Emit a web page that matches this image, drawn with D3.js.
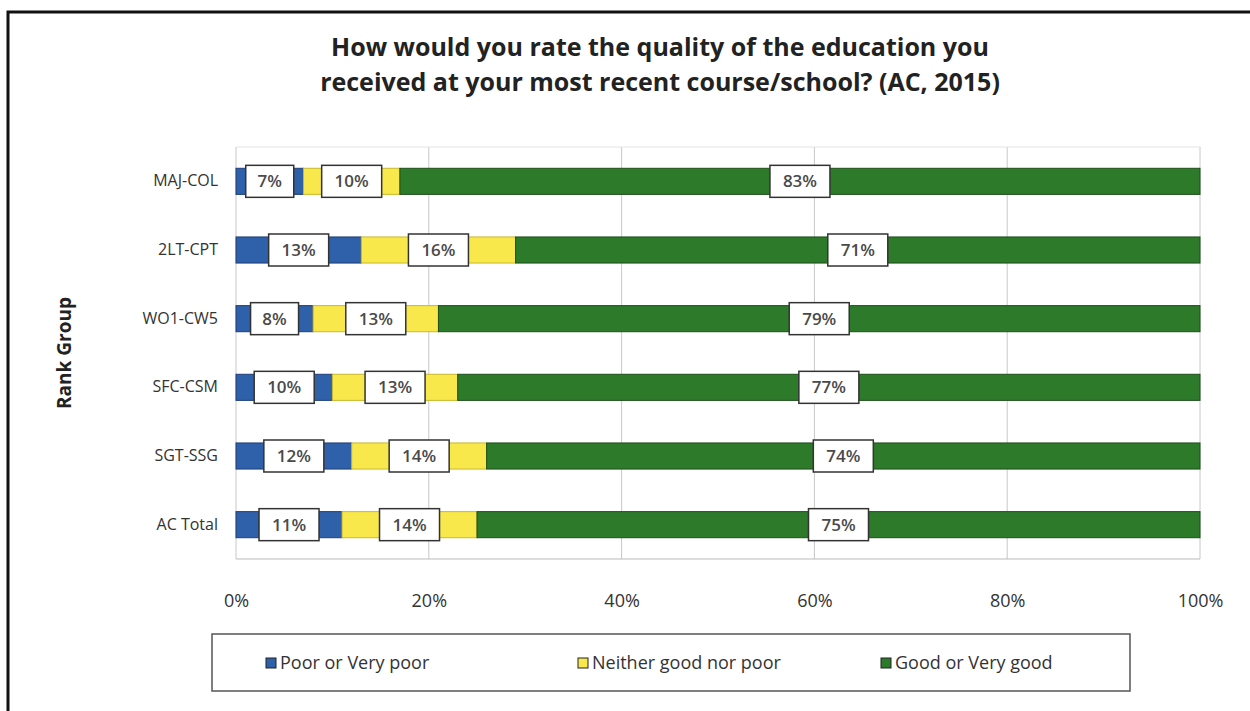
<!DOCTYPE html>
<html>
<head>
<meta charset="utf-8">
<script src="https://cdn.jsdelivr.net/npm/d3@7"></script>
<style>
  body { margin: 0; background: #fff; }
  text { font-family: "Open Sans", "Liberation Sans", sans-serif; }
</style>
</head>
<body>
<div id="chart"></div>
<script>
// Data
var groups = ["MAJ-COL", "2LT-CPT", "WO1-CW5", "SFC-CSM", "SGT-SSG", "AC Total"];
var poor    = [7, 13, 8, 10, 12, 11];
var neither = [10, 16, 13, 13, 14, 14];
var good    = [83, 71, 79, 77, 74, 75];
var seriesNames = ["Poor or Very poor", "Neither good nor poor", "Good or Very good"];
var xTicks = [0, 20, 40, 60, 80, 100];

var colors = ["#2f60aa", "#f8e84c", "#2c7a2a"];
var strokes = ["#1d3f78", "#c9b92c", "#1c4f1a"];

var W = 1250, H = 711;
var margin = {top: 147, right: 50, bottom: 152, left: 236},
    width = W - margin.left - margin.right,
    height = H - margin.top - margin.bottom;

var svg = d3.select("#chart")
  .append("svg")
    .attr("width", W)
    .attr("height", H);

// outer frame (runs off the right and bottom of the page)
svg.append("rect")
  .attr("x", 8).attr("y", 12)
  .attr("width", W + 20).attr("height", H + 20)
  .attr("fill", "none")
  .attr("stroke", "#111")
  .attr("stroke-width", 3);

// Title
var title = svg.append("text")
  .attr("x", 660).attr("y", 56)
  .attr("text-anchor", "middle")
  .attr("font-size", 25)
  .attr("font-weight", "bold")
  .attr("fill", "#222");
title.append("tspan").attr("x", 660).attr("dy", 0)
  .text("How would you rate the quality of the education you");
title.append("tspan").attr("x", 660).attr("dy", 35)
  .text("received at your most recent course/school? (AC, 2015)");

var g = svg.append("g")
  .attr("transform", "translate(" + margin.left + "," + margin.top + ")");

var x = d3.scaleLinear().domain([0, 100]).range([0, width]);
var y = d3.scaleBand().domain(groups).range([0, height]).paddingInner(0.62).paddingOuter(0.31);

// gridlines
g.selectAll(".grid")
  .data(xTicks)
  .enter().append("line")
    .attr("class", "grid")
    .attr("x1", function(d) { return x(d); })
    .attr("x2", function(d) { return x(d); })
    .attr("y1", 0).attr("y2", height)
    .attr("stroke", "#c8c8c8")
    .attr("stroke-width", 1);

// plot frame bottom line
g.append("line")
  .attr("x1", 0).attr("x2", width)
  .attr("y1", height).attr("y2", height)
  .attr("stroke", "#bbb");
g.append("line")
  .attr("x1", 0).attr("x2", width)
  .attr("y1", 0).attr("y2", 0)
  .attr("stroke", "#e4e4e4");

// x axis
var xAxis = d3.axisBottom(x).tickValues(xTicks).tickSize(0).tickFormat(function(d) { return d + "%"; });
var xa = g.append("g")
  .attr("transform", "translate(0," + height + ")")
  .call(xAxis);
xa.select(".domain").remove();
xa.selectAll("text")
  .attr("dy", 0).attr("y", 48)
  .attr("font-size", 18)
  .attr("fill", "#333")
  .style("font-family", "'Open Sans', sans-serif");

// y axis
var yAxis = d3.axisLeft(y).tickSize(0);
var ya = g.append("g").call(yAxis);
ya.select(".domain").remove();
ya.selectAll("text")
  .attr("x", -18)
  .attr("font-size", 16)
  .attr("fill", "#333")
  .style("font-family", "'Open Sans', sans-serif");

// y axis title
svg.append("text")
  .attr("transform", "translate(71," + (margin.top + height / 2) + ") rotate(-90)")
  .attr("text-anchor", "middle")
  .attr("font-size", 19)
  .attr("font-weight", "bold")
  .attr("fill", "#222")
  .text("Rank Group");

// stacked segments
var rows = groups.map(function(name, i) {
  return {name: name, values: [poor[i], neither[i], good[i]]};
});
var segs = [];
rows.forEach(function(r) {
  var x0 = 0;
  r.values.forEach(function(v, k) {
    segs.push({name: r.name, k: k, x0: x0, x1: x0 + v, v: v});
    x0 += v;
  });
});

g.selectAll(".seg")
  .data(segs)
  .enter().append("rect")
    .attr("class", "seg")
    .attr("x", function(d) { return x(d.x0); })
    .attr("y", function(d) { return y(d.name); })
    .attr("width", function(d) { return x(d.x1) - x(d.x0); })
    .attr("height", y.bandwidth())
    .attr("fill", function(d) { return colors[d.k]; })
    .attr("stroke", function(d) { return strokes[d.k]; })
    .attr("stroke-width", 1);

// value labels in boxes
var lab = g.selectAll(".lab")
  .data(segs)
  .enter().append("g")
    .attr("class", "lab")
    .attr("transform", function(d) {
      return "translate(" + x((d.x0 + d.x1) / 2) + "," + (y(d.name) + y.bandwidth() / 2) + ")";
    });
lab.append("rect")
  .attr("x", function(d) { return d.v < 10 ? -24 : -30; })
  .attr("y", -16)
  .attr("width", function(d) { return d.v < 10 ? 48 : 60; })
  .attr("height", 32)
  .attr("fill", "#fff")
  .attr("stroke", "#333")
  .attr("stroke-width", 1.5);
lab.append("text")
  .attr("text-anchor", "middle")
  .attr("dy", "0.36em")
  .attr("font-size", 17)
  .attr("font-weight", 600)
  .attr("fill", "#4a4a4a")
  .text(function(d) { return d.v + "%"; });

// legend
var lg = svg.append("g");
lg.append("rect")
  .attr("x", 212).attr("y", 634)
  .attr("width", 918).attr("height", 57)
  .attr("fill", "#fff")
  .attr("stroke", "#555")
  .attr("stroke-width", 1.5);
var legX = [266, 578, 881];
var li = lg.selectAll(".li")
  .data(seriesNames)
  .enter().append("g")
    .attr("transform", function(d, i) { return "translate(" + legX[i] + ",663)"; });
li.append("rect")
  .attr("x", 0).attr("y", -5)
  .attr("width", 10).attr("height", 10)
  .attr("fill", function(d, i) { return colors[i]; })
  .attr("stroke", "#222");
li.append("text")
  .attr("x", 14).attr("dy", "0.35em")
  .attr("font-size", 18)
  .attr("fill", "#333")
  .text(function(d) { return d; });
</script>
</body>
</html>
